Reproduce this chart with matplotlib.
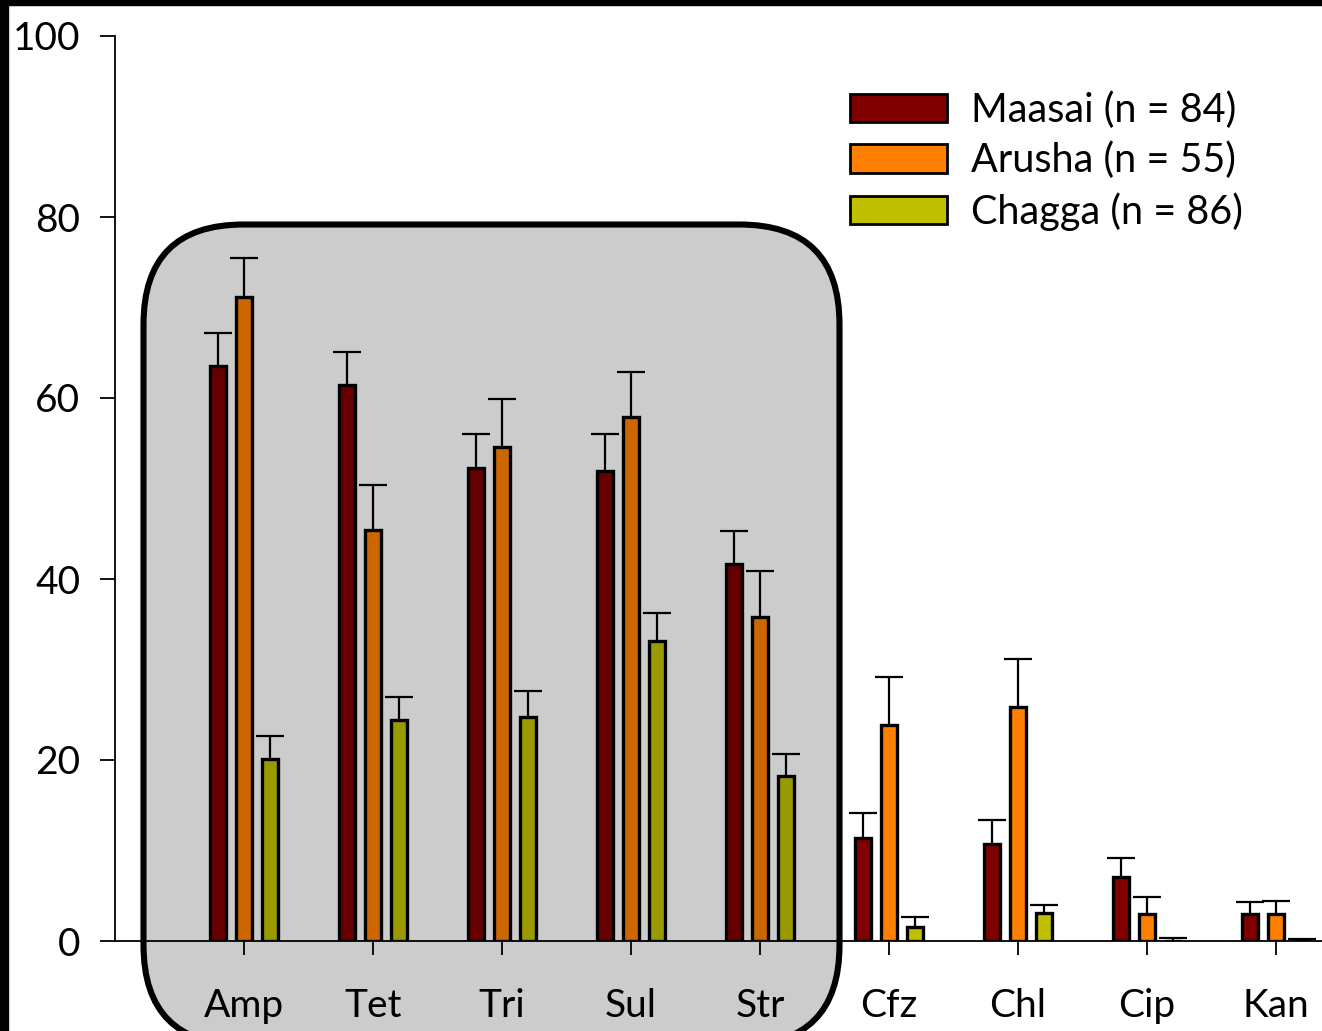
import matplotlib.pyplot as plt
import numpy as np
from matplotlib.patches import FancyBboxPatch, Rectangle

plt.rcParams['font.family'] = ['Lato', 'DejaVu Sans']

drugs = ['Amp', 'Tet', 'Tri', 'Sul', 'Str', 'Cfz', 'Chl', 'Cip', 'Kan']
groups = ['Maasai (n = 84)', 'Arusha (n = 55)', 'Chagga (n = 86)']
colors = ['#800000', '#ff8000', '#c0c000']

# percent resistant, and upper error (absolute top of whisker)
maasai = [63.5, 61.4, 52.3, 51.9, 41.7, 11.4, 10.7, 7.1, 3.0]
maasai_top = [67.2, 65.1, 56.0, 56.0, 45.3, 14.1, 13.4, 9.2, 4.3]
arusha = [71.2, 45.4, 54.6, 57.9, 35.8, 23.9, 25.9, 3.0, 3.0]
arusha_top = [75.5, 50.4, 59.9, 62.9, 40.9, 29.2, 31.2, 4.9, 4.4]
chagga = [20.1, 24.4, 24.8, 33.2, 18.2, 1.5, 3.1, 0.0, 0.0]
chagga_top = [22.7, 27.0, 27.6, 36.2, 20.7, 2.7, 4.0, 0.3, 0.2]

values = [maasai, arusha, chagga]
tops = [maasai_top, arusha_top, chagga_top]

fig = plt.figure(figsize=(13.22, 10.31), dpi=100)
ax = fig.add_axes([115 / 1322, 90 / 1031, 1 - 115 / 1322, 905 / 1031])

x = np.arange(len(drugs))
cap = 0.108
for k in range(3):
    xs = x + (k - 1) * 0.2
    # upper whisker only
    ax.vlines(xs, values[k], tops[k], color='black', linewidth=1.6, zorder=2)
    ax.hlines(tops[k], xs - cap, xs + cap, color='black', linewidth=1.6, zorder=2)
    ax.bar(xs, values[k], width=0.124, color=colors[k],
           edgecolor='black', linewidth=2.4, label=groups[k], zorder=3)

ax.set_xlim(-1, 8.357)
ax.set_ylim(0, 100)
ax.set_yticks([0, 20, 40, 60, 80, 100])
ax.set_xticks(x)
ax.set_xticklabels(drugs)
for s in ['top', 'right']:
    ax.spines[s].set_visible(False)
for s in ['left', 'bottom']:
    ax.spines[s].set_linewidth(1.3)
    ax.spines[s].set_zorder(4)
ax.tick_params(axis='y', direction='out', length=11, width=1.3, pad=14, labelsize=28)
ax.tick_params(axis='x', direction='out', length=10, width=1.3, pad=24, labelsize=28)

leg = ax.legend(loc='upper left', frameon=False, fontsize=28.5,
                handlelength=2.45, handleheight=0.72, handletextpad=0.6,
                labelspacing=0.33, borderpad=0, borderaxespad=0)
leg.set_bbox_to_anchor((850 / 1322, 1 - 91 / 1031), transform=fig.transFigure)
for h in leg.legend_handles:
    h.set_linewidth(2)

# shaded rounded panel over the first five drugs
box = FancyBboxPatch((1.435, -0.14), 6.96, 8.205,
                     boxstyle='round,pad=0,rounding_size=1.0',
                     transform=fig.dpi_scale_trans, facecolor=(0, 0, 0, 0.2),
                     edgecolor='black', linewidth=4.4, zorder=5)
fig.add_artist(box)

# black frame strips on left and top
fig.add_artist(Rectangle((0, 0), 8 / 1322, 1, transform=fig.transFigure,
                         color='black', zorder=6))
fig.add_artist(Rectangle((0, 1 - 5 / 1031), 1, 5 / 1031, transform=fig.transFigure,
                         color='black', zorder=6))

fig.savefig('out.png', dpi=100)
